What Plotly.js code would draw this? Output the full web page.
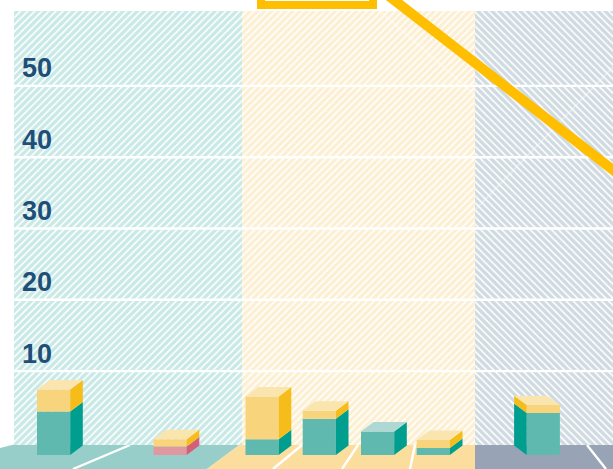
<!DOCTYPE html>
<html>
<head>
<meta charset="utf-8">
<script src="https://cdn.plot.ly/plotly-3.0.1.min.js"></script>
<style>html,body{margin:0;padding:0;background:#fff}#chart{width:613px;height:469px}</style>
</head>
<body>
<div id="chart"></div>
<script>
// Stacked block heights, one entry per block
const lowerValues = [6.1, 1.2, 2.2, 5.1, 3.3, 1.0, 5.9];
const upperValues = [3.1, 1.0, 6.0, 1.1, 0, 1.1, 1.1];
const tickValues = [10, 20, 30, 40, 50];
const tickLabels = ['10', '20', '30', '40', '50'];

// Horizontal layout of the blocks on a 613-unit wide axis
const blockLeft = [37, 153.5, 245.5, 302.7, 361, 416.7, 526.7];
const sideDir = [1, 1, 1, 1, 1, 1, -1];
const lowerKind = ['teal', 'pink', 'teal', 'teal', 'teal', 'teal', 'teal'];
const blockW = 33.2, depthX = 12.6, depthY = 1.33, baseV = -1.77;

const pxPerUnit = 7.13, zeroPx = 442.4;
const v = px => (zeroPx - px) / pxPerUnit;

const palette = {
  teal: {front: '#5fb9af', side: '#009e8e', top: '#aed8d4'},
  pink: {front: '#e0979f', side: '#d45f78', top: '#e8b4ba'},
  yellow: {front: '#f8d47c', side: '#f6bd1a', top: '#fbe5ae'}
};
const accent = '#ffbe00';

const traces = [];

// Hatched backdrop panels
[
  {x0: 14, x1: 242, fg: '#92d3ce', shape: '/'},
  {x0: 242, x1: 475, fg: '#f9dfa6', shape: '/'},
  {x0: 475, x1: 613, fg: '#a2b6c4', shape: '\\'}
].forEach(p => traces.push({
  type: 'bar', x: [(p.x0 + p.x1) / 2], width: [p.x1 - p.x0],
  base: [v(445)], y: [v(11) - v(445)],
  marker: {color: '#fff', line: {width: 0},
    pattern: {shape: p.shape, fgcolor: p.fg, bgcolor: '#ffffff', size: 5, solidity: 0.68, fillmode: 'overlay'}},
  hoverinfo: 'skip', showlegend: false
}));

// Front faces as real bars, lower then upper part
const frontBars = (vals, bases, cols) => ({
  type: 'bar', x: blockLeft.map(l => l + blockW / 2), width: blockLeft.map(() => blockW),
  y: vals, base: bases, marker: {color: cols, line: {width: 0}},
  hoverinfo: 'skip', showlegend: false
});
traces.push(frontBars(lowerValues, lowerValues.map(() => baseV), lowerKind.map(k => palette[k].front)));
traces.push(frontBars(upperValues, lowerValues.map(l => baseV + l), lowerValues.map(() => palette.yellow.front)));

// Polygon helper for the receding faces
const face = (xs, ys, color) => traces.push({
  type: 'scatter', mode: 'lines', x: xs.concat(xs[0]), y: ys.concat(ys[0]),
  fill: 'toself', fillcolor: color, line: {width: 0}, hoverinfo: 'skip', showlegend: false
});

blockLeft.forEach((left, i) => {
  const d = sideDir[i];
  const edge = d > 0 ? left + blockW : left;
  const dx = d * depthX;
  const y1 = baseV + lowerValues[i], y2 = y1 + upperValues[i];
  const lowerC = palette[lowerKind[i]];
  face([edge, edge + dx, edge + dx, edge], [baseV, baseV + depthY, y1 + depthY, y1], lowerC.side);
  if (upperValues[i] > 0) {
    face([edge, edge + dx, edge + dx, edge], [y1, y1 + depthY, y2 + depthY, y2], palette.yellow.side);
  }
  const topC = upperValues[i] > 0 ? palette.yellow.top : lowerC.top;
  face([left, left + blockW, left + blockW + dx, left + dx], [y2, y2, y2 + depthY, y2 + depthY], topC);
});

// Horizontal rules across the panels
tickValues.forEach(t => traces.push({
  type: 'scatter', mode: 'lines', x: [14, 613], y: [t, t],
  line: {color: '#ffffff', width: 2.4}, hoverinfo: 'skip', showlegend: false
}));

// Faint perspective lines running over the hatching
[[[476, 209], [613, 67]], [[372, 4], [475, 95]]].forEach(seg => traces.push({
  type: 'scatter', mode: 'lines', x: seg.map(p => p[0]), y: seg.map(p => v(p[1])),
  line: {color: 'rgba(255,255,255,0.35)', width: 2}, hoverinfo: 'skip', showlegend: false
}));

// Heavy descending accent line
traces.push({
  type: 'scatter', mode: 'lines', x: [385, 625], y: [v(-7), v(179.3)],
  line: {color: accent, width: 10}, hoverinfo: 'skip', showlegend: false
});

const poly = (pts, color) => ({
  type: 'path', layer: 'below', xref: 'x', yref: 'y',
  path: 'M' + pts.map(p => p[0] + ',' + v(p[1])).join('L') + 'Z',
  fillcolor: color, line: {width: 0}
});
const floorLine = (a, b) => ({
  type: 'line', layer: 'below', xref: 'x', yref: 'y',
  x0: a[0], y0: v(a[1]), x1: b[0], y1: v(b[1]), line: {color: '#ffffff', width: 2.4}
});

const layout = {
  width: 613, height: 469,
  margin: {l: 0, r: 0, t: 0, b: 0},
  paper_bgcolor: '#ffffff', plot_bgcolor: '#ffffff',
  barmode: 'overlay', showlegend: false,
  xaxis: {range: [0, 613], visible: false, fixedrange: true},
  yaxis: {
    range: [v(469), v(0)], fixedrange: true, showgrid: false, zeroline: false, showline: false,
    tickmode: 'array', tickvals: tickValues, ticktext: tickLabels, ticks: '',
    ticklabelposition: 'inside', ticklabelstandoff: 19, ticklabelshift: -18, layer: 'above traces',
    tickfont: {family: '"Liberation Sans", sans-serif', size: 27, weight: 700, color: '#1f4f78'}
  },
  shapes: [
    poly([[0, 448], [14, 444.5], [240, 444.5], [207, 469], [0, 469]], '#97cec9'),
    poly([[207, 469], [240, 444.5], [475, 444.5], [475, 469]], '#fbdd9d'),
    poly([[475, 444.5], [613, 444.5], [613, 469], [475, 469]], '#98a4b5'),
    floorLine([73, 469], [130, 445]),
    floorLine([273, 469], [302, 445]),
    floorLine([342, 469], [358, 445]),
    floorLine([410, 469], [415, 445]),
    floorLine([587, 445], [606, 469]),
    // Open-topped frame running past the upper edge
    {type: 'rect', layer: 'above', xref: 'x', yref: 'y',
      x0: 261, x1: 373, y0: v(5), y1: v(-30), fillcolor: 'rgba(0,0,0,0)', line: {color: accent, width: 8}}
  ]
};

Plotly.newPlot('chart', traces, layout, {staticPlot: true, displayModeBar: false});
</script>
</body>
</html>
